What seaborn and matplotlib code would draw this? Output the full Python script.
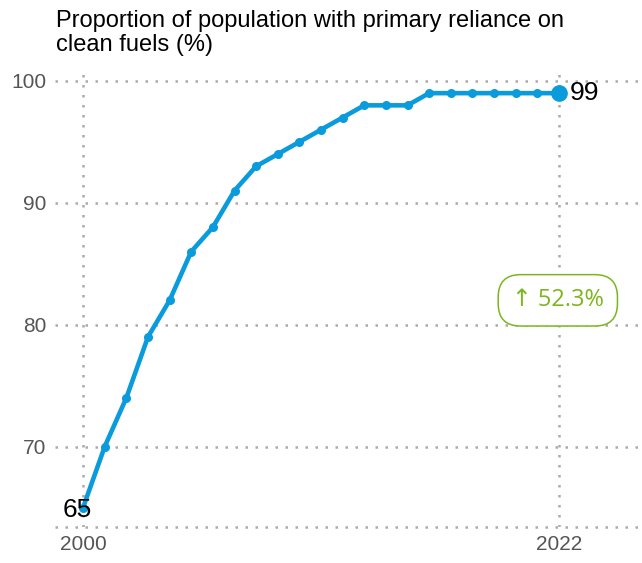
import matplotlib
matplotlib.use("Agg")
import matplotlib.pyplot as plt
import seaborn as sns
import pandas as pd

# --- dados ---
years = list(range(2000, 2023))
values = [65, 70, 74, 79, 82, 86, 88, 91, 93, 94, 95, 96, 97, 98, 98, 98,
          99, 99, 99, 99, 99, 99, 99]
y_ticks = [70, 80, 90, 100]
x_ticks = [2000, 2022]
title = "Proportion of population with primary reliance on\nclean fuels (%)"
change_label = "\u2191 52.3%"

df = pd.DataFrame({"year": years, "value": values})

sns.set_style("white")
plt.rcParams["font.family"] = ["Liberation Sans", "DejaVu Sans"]

LINE = "#0A9BDC"
GRID = "#AAAAAA"
GREEN = "#7DB61C"

fig = plt.figure(figsize=(6.42, 5.63), dpi=100)
ax = fig.add_axes([55 / 642, 1 - 527 / 563, 585 / 642, 457 / 563])

sns.lineplot(data=df, x="year", y="value", ax=ax, color=LINE, lw=3.3,
             marker="o", markersize=6.5, markeredgewidth=0, zorder=3)
ax.plot(years[-1], values[-1], "o", color=LINE, markersize=11, zorder=4)

ax.set_xlim(1998.7, 2025.75)
ax.set_ylim(63.4, 100.9)

# grid
for y in y_ticks:
    ax.axhline(y, color=GRID, ls=(0, (1, 3)), lw=1.8, zorder=1)
ax.axhline(63.4, color=GRID, ls=(0, (1, 3)), lw=1.8, zorder=1, clip_on=False)
for x in x_ticks:
    ax.axvline(x, color=GRID, ls=(0, (1, 3)), lw=1.8, zorder=1)

for s in ax.spines.values():
    s.set_visible(False)

ax.set_xticks(x_ticks)
ax.set_yticks(y_ticks)
ax.tick_params(length=0, labelsize=15, colors="#555555", pad=6)
ax.tick_params(axis="y", pad=6)
ax.set_xlabel("")
ax.set_ylabel("")

# rótulos dos extremos
ax.annotate(f"{values[0]}", (years[0], values[0]), textcoords="offset points",
            xytext=(-4, -2), ha="center", va="center", fontsize=19, color="black",
            zorder=5)
ax.annotate(f"{values[-1]}", (years[-1], values[-1]), textcoords="offset points",
            xytext=(8, 0), ha="left", va="center", fontsize=19, color="black",
            zorder=5)

# selo de variação
ax.text(2021.95, 82, change_label, ha="center", va="center", fontsize=17,
        color=GREEN, family=["Open Sans", "DejaVu Sans"], zorder=6,
        bbox=dict(boxstyle="round,pad=0.58,rounding_size=0.95", fc="white",
                  ec=GREEN, lw=1.1))

fig.text(56 / 642, 1 - 10 / 563, title, ha="left", va="top", fontsize=17,
         color="black", linespacing=1.12)

plt.savefig("out.png", dpi=100)
plt.close()
